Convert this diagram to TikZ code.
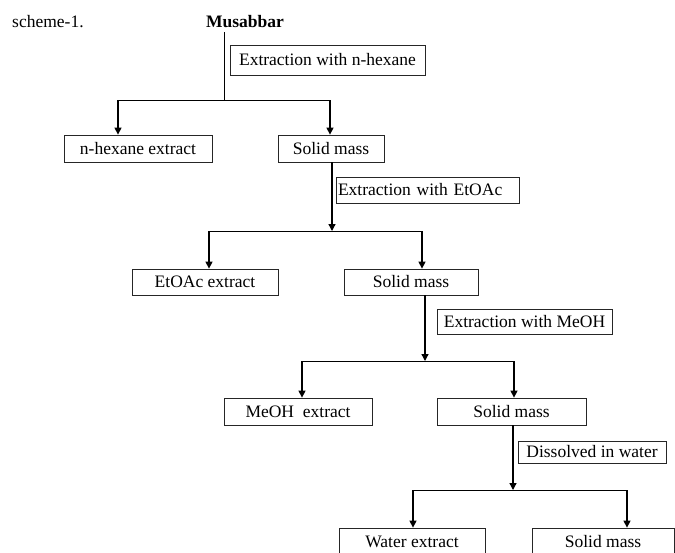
\documentclass[tikz,border=0pt]{standalone}
\usepackage{fontspec}
\setmainfont{Liberation Serif}
\usetikzlibrary{positioning, calc, arrows.meta}

\begin{document}
\begin{tikzpicture}[x=1pt, y=-1pt,
    every node/.style={font=\fontsize{17.5}{20}\selectfont, inner sep=0pt},
    box/.style={draw=black!85, line width=0.8pt, minimum height=27pt},
    thinline/.style={line width=0.8pt},
    arr/.style={line width=1.3pt, -{Triangle[width=7pt,length=7pt]}}]

    % Khung hình (kích thước ảnh gốc)
    \useasboundingbox (0,0) rectangle (675,552);
    \clip (0,0) rectangle (675,552);

    % 1. Tiêu đề
    \node[anchor=west] (scheme) at (12,22) {scheme-1.};
    \node (mus) at (245,22) {\bfseries Musabbar};

    % 2. Các ô quy trình
    \node[box, minimum width=195pt, minimum height=30pt] (ex1) at (327.5,60) {Extraction with n-hexane};
    \node[box, minimum width=148pt] (hexext) at (138,148.5) {n-hexane extract};
    \node[box, minimum width=106pt] (solid1) at (331,148.5) {Solid mass};

    \node[box, text width=179pt, align=left, inner xsep=2pt, minimum height=26pt] (ex2) at (427.5,190) {Extraction with EtOAc};
    \node[box, minimum width=146pt, minimum height=26pt] (etext) at (205,282) {EtOAc extract};
    \node[box, minimum width=134pt, minimum height=26pt] (solid2) at (411,282) {Solid mass};

    \node[box, minimum width=175pt, minimum height=25pt] (ex3) at (524.5,321.5) {Extraction with MeOH};
    \node[box, minimum width=148pt] (meext) at (298,411.5) {MeOH\ \ extract};
    \node[box, minimum width=149pt] (solid3) at (511.5,411.5) {Solid mass};

    \node[box, minimum width=148pt, minimum height=22pt] (ex4) at (592,452) {Dissolved in water};
    \node[box, minimum width=146pt] (watext) at (412,541.5) {Water extract};
    \node[box, minimum width=142pt] (solid4) at (603,541.5) {Solid mass};

    % 3. Mức 1: Musabbar -> n-hexane
    \coordinate (j1) at (224,100);
    \coordinate (l1) at (118,100);
    \coordinate (r1) at (330,100);
    \draw[thinline] (j1 |- mus.south) ++(0,4) -- (j1);
    \draw[thinline] (l1) -- (r1);
    \draw[arr] (l1) -- (l1 |- hexext.north);
    \draw[arr] (r1) -- (r1 |- solid1.north);

    % 4. Mức 2: EtOAc
    \coordinate (j2) at (332,231);
    \coordinate (l2) at (209,231);
    \coordinate (r2) at (422,231);
    \draw[arr] (j2 |- solid1.south) -- (j2);
    \draw[thinline] (l2) -- (r2);
    \draw[arr] (l2) -- (l2 |- etext.north);
    \draw[arr] (r2) -- (r2 |- solid2.north);

    % 5. Mức 3: MeOH
    \coordinate (j3) at (425,361);
    \coordinate (l3) at (302,361);
    \coordinate (r3) at (514,361);
    \draw[arr] (j3 |- solid2.south) -- (j3);
    \draw[thinline] (l3) -- (r3);
    \draw[arr] (l3) -- (l3 |- meext.north);
    \draw[arr] (r3) -- (r3 |- solid3.north);

    % 6. Mức 4: nước
    \coordinate (j4) at (513,490);
    \coordinate (l4) at (413,490);
    \coordinate (r4) at (627,490);
    \draw[arr] (j4 |- solid3.south) -- (j4);
    \draw[thinline] (l4) -- (r4);
    \draw[arr] (l4) -- (l4 |- watext.north);
    \draw[arr] (r4) -- (r4 |- solid4.north);

\end{tikzpicture}
\end{document}
